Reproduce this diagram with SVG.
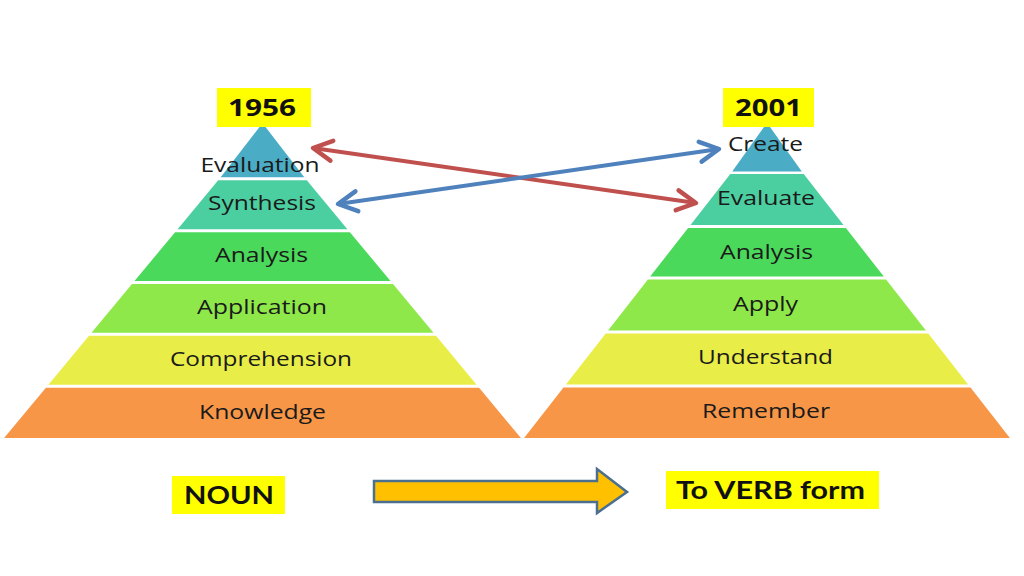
<svg xmlns="http://www.w3.org/2000/svg" width="1024" height="576" viewBox="0 0 1024 576">
<defs>
<style>
.lvl{font-family:"Open Sans","DejaVu Sans",sans-serif;font-size:20px;fill:#1a1a1a;text-anchor:middle}
.yr{font-family:"Open Sans","DejaVu Sans",sans-serif;font-size:23px;font-weight:bold;fill:#111;text-anchor:middle}
.lab{font-family:Lato,"Liberation Sans",sans-serif;font-size:24px;font-weight:bold;fill:#111;text-anchor:middle}
.hl{fill:#ffff00}
.c1{fill:#4bacc6}.c2{fill:#4ccfa0}.c3{fill:#4ad95a}.c4{fill:#8ee84a}.c5{fill:#e9ed47}.c6{fill:#f79646}
</style>
<marker id="mr" markerUnits="userSpaceOnUse" viewBox="-24 -14 28 28" refX="0" refY="0" markerWidth="28" markerHeight="28" orient="auto-start-reverse">
<path d="M-19,-10 L0,0 L-19,10" fill="none" stroke="#c0504d" stroke-width="4.5" stroke-linecap="round" stroke-linejoin="round"/>
</marker>
<marker id="mb" markerUnits="userSpaceOnUse" viewBox="-24 -14 28 28" refX="0" refY="0" markerWidth="28" markerHeight="28" orient="auto-start-reverse">
<path d="M-19,-10 L0,0 L-19,10" fill="none" stroke="#4f81bd" stroke-width="4.5" stroke-linecap="round" stroke-linejoin="round"/>
</marker>
</defs>
<rect width="1024" height="576" fill="#ffffff"/>

<g id="pyramid-1956">
<g id="evaluation"><polygon class="c1" points="259.5,127 265.5,127 304.3,177.3 220.7,177.3"/><text class="lvl" x="260" y="172" textLength="119" lengthAdjust="spacingAndGlyphs">Evaluation</text></g>
<g id="synthesis"><polygon class="c2" points="218.2,180.3 306.8,180.3 347.4,229.2 177.6,229.2"/><text class="lvl" x="262" y="210" textLength="108" lengthAdjust="spacingAndGlyphs">Synthesis</text></g>
<g id="analysis-1"><polygon class="c3" points="175.1,232.2 349.9,232.2 390.5,281 134.5,281"/><text class="lvl" x="261.5" y="262" textLength="93" lengthAdjust="spacingAndGlyphs">Analysis</text></g>
<g id="application"><polygon class="c4" points="132,284 393,284 433.5,332.8 91.5,332.8"/><text class="lvl" x="262" y="314" textLength="130" lengthAdjust="spacingAndGlyphs">Application</text></g>
<g id="comprehension"><polygon class="c5" points="89,335.8 436,335.8 476.6,384.7 48.4,384.7"/><text class="lvl" x="261" y="366" textLength="182" lengthAdjust="spacingAndGlyphs">Comprehension</text></g>
<g id="knowledge"><polygon class="c6" points="45.9,387.7 479.1,387.7 520.9,438 4.1,438"/><text class="lvl" x="262.5" y="419" textLength="127" lengthAdjust="spacingAndGlyphs">Knowledge</text></g>
</g>

<g id="pyramid-2001">
<g id="create"><polygon class="c1" points="764,127 770,127 801.8,171.5 732.2,171.5"/><text class="lvl" x="765.5" y="151" textLength="75" lengthAdjust="spacingAndGlyphs">Create</text></g>
<g id="evaluate"><polygon class="c2" points="730.3,174 803.7,174 843.5,225 690.5,225"/><text class="lvl" x="766" y="205" textLength="98" lengthAdjust="spacingAndGlyphs">Evaluate</text></g>
<g id="analysis-2"><polygon class="c3" points="688.1,228 845.9,228 883.8,276.5 650.2,276.5"/><text class="lvl" x="766.5" y="259" textLength="93" lengthAdjust="spacingAndGlyphs">Analysis</text></g>
<g id="apply"><polygon class="c4" points="647.9,279.5 886.1,279.5 925.9,330.5 608.1,330.5"/><text class="lvl" x="765.5" y="311" textLength="65" lengthAdjust="spacingAndGlyphs">Apply</text></g>
<g id="understand"><polygon class="c5" points="605.7,333.5 928.3,333.5 968.1,384.5 565.9,384.5"/><text class="lvl" x="765.5" y="364" textLength="135" lengthAdjust="spacingAndGlyphs">Understand</text></g>
<g id="remember"><polygon class="c6" points="563.5,387.5 970.5,387.5 1009.9,438 524.1,438"/><text class="lvl" x="766" y="418" textLength="128" lengthAdjust="spacingAndGlyphs">Remember</text></g>
</g>

<g id="year-1956"><rect class="hl" x="217" y="88" width="94" height="39"/><text class="yr" x="262" y="116" textLength="68" lengthAdjust="spacingAndGlyphs">1956</text></g>
<g id="year-2001"><rect class="hl" x="723" y="88" width="91" height="39"/><text class="yr" x="768.5" y="116" textLength="67" lengthAdjust="spacingAndGlyphs">2001</text></g>

<g id="noun"><rect class="hl" x="172" y="476" width="113" height="38"/><text class="lab" x="229" y="504" textLength="90" lengthAdjust="spacingAndGlyphs">NOUN</text></g>
<g id="verb-form"><rect class="hl" x="666" y="471" width="213" height="38"/><text class="lab" x="770.5" y="499" textLength="189" lengthAdjust="spacingAndGlyphs">To VERB form</text></g>

<g id="connectors">
<line x1="313" y1="148" x2="696" y2="203" stroke="#c0504d" stroke-width="4" marker-start="url(#mr)" marker-end="url(#mr)"/>
<line x1="338" y1="204" x2="719" y2="149" stroke="#4f81bd" stroke-width="4" marker-start="url(#mb)" marker-end="url(#mb)"/>
<polygon id="block-arrow" points="374,481 597,481 597,469 627,492 597,513 597,502 374,502" fill="#ffc000" stroke="#4a6f90" stroke-width="2.5" stroke-linejoin="miter"/>
</g>
</svg>
